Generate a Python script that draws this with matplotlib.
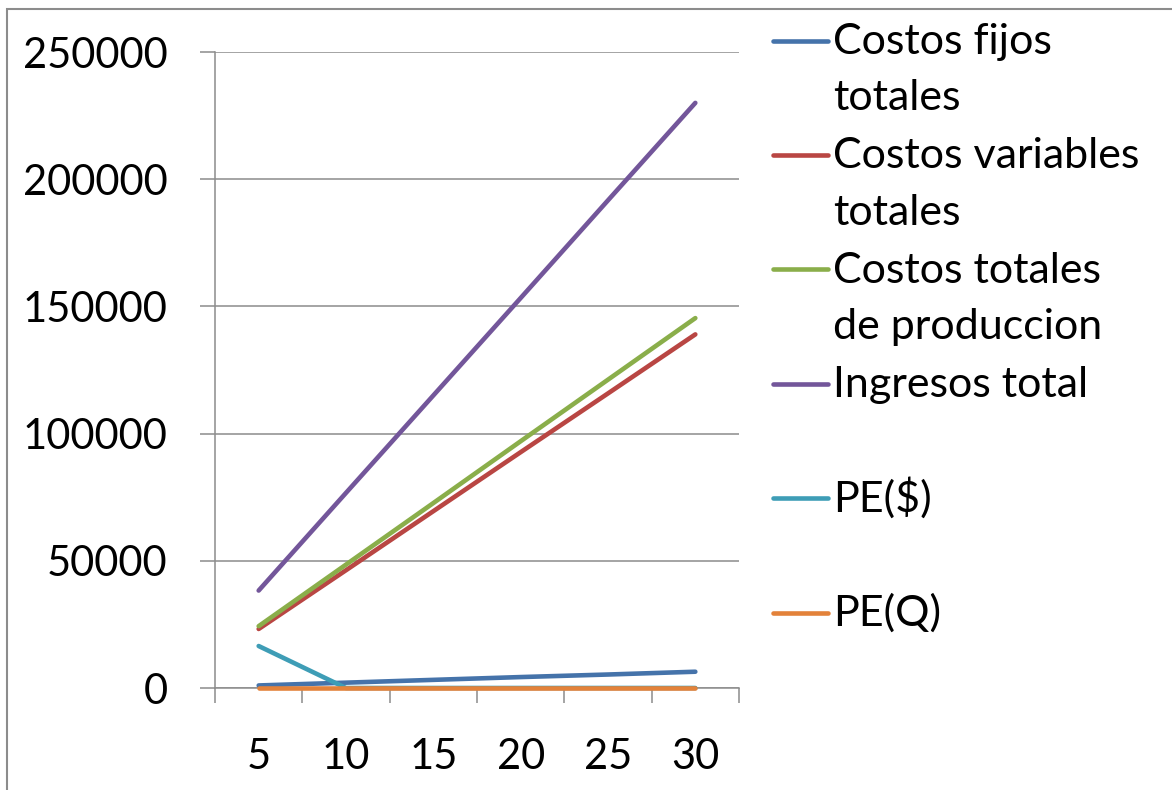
import numpy as np
import matplotlib
matplotlib.use("Agg")
import matplotlib.pyplot as plt
from matplotlib.lines import Line2D
from matplotlib.patches import Rectangle

plt.rcParams['font.family'] = ['Lato', 'DejaVu Sans']

# Data
categories = ['5', '10', '15', '20', '25', '30']
costos_fijos = [1000, 2100, 3200, 4300, 5300, 6400]
costos_variables = [23200, 46300, 69500, 92700, 115800, 139000]
costos_totales = [24300, 48500, 72700, 97000, 121200, 145400]
ingresos = [38300, 76700, 115000, 153300, 191700, 230000]
pe_dinero = [16500, 0, 0, 0, 0, 0]
pe_cantidad = [0, 0, 0, 0, 0, 0]

labels = [['Costos fijos', 'totales'],
          ['Costos variables', 'totales'],
          ['Costos totales', 'de produccion'],
          ['Ingresos total'],
          ['PE($)'],
          ['PE(Q)']]
series = [costos_fijos, costos_variables, costos_totales, ingresos, pe_dinero, pe_cantidad]
colors = ['#4573AA', '#B94643', '#8AAE4A', '#73569A', '#3E9DB6', '#E3823A']

W, H = 1172, 790
fig = plt.figure(figsize=(W / 100, H / 100), dpi=100)

def fx(px):
    return px / W

def fy(px):
    return 1 - px / H

# chart border
fig.patches.append(Rectangle((fx(7), fy(1000)), 1.2, fy(9) - fy(1000), transform=fig.transFigure,
                             fill=False, edgecolor='#8c8c8c', linewidth=1.5))

ax = fig.add_axes([fx(215), fy(688), fx(739) - fx(215), fy(52) - fy(688)])
x = np.arange(len(categories))
for vals, c in zip(series, colors):
    ax.plot(x, vals, color=c, linewidth=3.3, solid_capstyle='round', zorder=3, clip_on=False)

ax.set_xlim(-0.5, len(categories) - 0.5)
ax.set_ylim(0, 250000)
ax.set_yticks(np.arange(0, 250001, 50000))
ax.set_yticklabels([str(v) for v in range(0, 250001, 50000)])
ax.yaxis.grid(True, color='#8c8c8c', linewidth=1.1)
ax.set_axisbelow(True)

ax.set_xticks(np.arange(-0.5, len(categories), 1.0))
ax.set_xticklabels([])
ax.set_xticks(x, minor=True)
ax.set_xticklabels(categories, minor=True)
ax.tick_params(axis='x', which='major', length=11, width=1.1, color='#8c8c8c', direction='out')
ax.tick_params(axis='x', which='minor', length=0, pad=36, labelsize=30)
ax.tick_params(axis='y', length=11, width=1.1, color='#8c8c8c', direction='out', pad=23, labelsize=30)

for side in ['top', 'right']:
    ax.spines[side].set_visible(False)
for side in ['left', 'bottom']:
    ax.spines[side].set_color('#8c8c8c')
    ax.spines[side].set_linewidth(1.1)

# legend drawn by hand so the line sits beside the first text line
base0 = 54
step = 114.4
for i, (lab, c) in enumerate(zip(labels, colors)):
    b = base0 + i * step
    fig.lines.append(Line2D([fx(773), fx(828)], [fy(b - 13.5), fy(b - 13.5)], transform=fig.transFigure,
                            color=c, linewidth=3.3, solid_capstyle='round'))
    for j, line in enumerate(lab):
        fig.text(fx(833), fy(b + j * 56.5), line, fontsize=31, va='baseline', ha='left')

fig.savefig('out.png', dpi=100)
